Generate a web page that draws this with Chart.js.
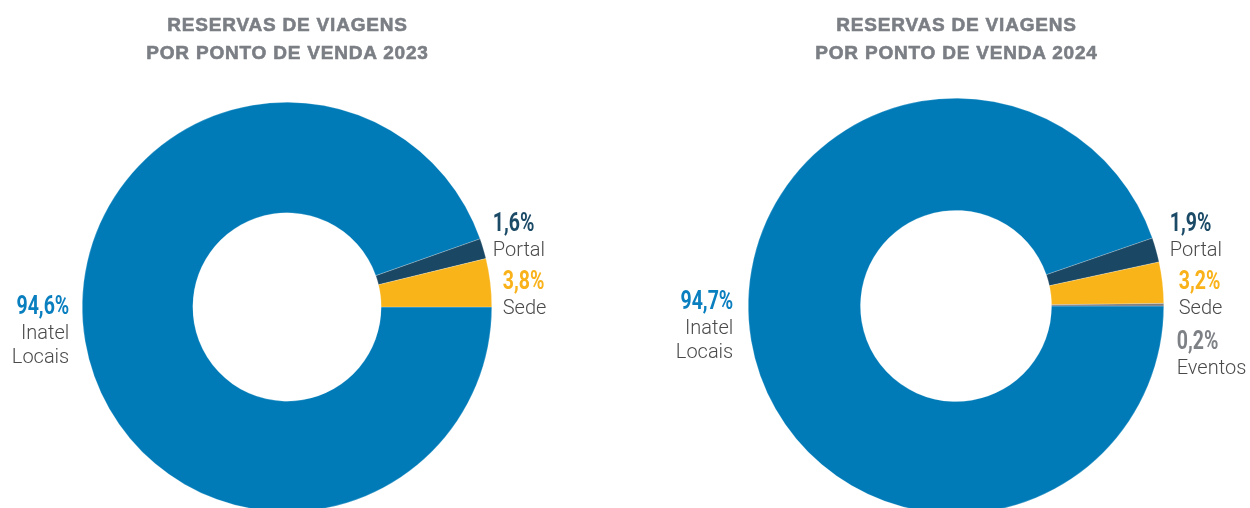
<!DOCTYPE html>
<html lang="pt">
<head>
<meta charset="utf-8">
<title>Reservas de viagens por ponto de venda</title>
<script src="https://cdn.jsdelivr.net/npm/chart.js@4.4.0/dist/chart.umd.min.js"></script>
<style>
  html, body { margin: 0; padding: 0; background: #fff; overflow: hidden; }
  body { width: 1250px; height: 508px; position: relative; }
  .panel { position: absolute; top: 0; width: 625px; }
  .panel canvas { position: absolute; top: 0; left: 0; }
  .title {
    position: absolute; top: 11px; width: 625px; text-align: center;
    font-family: "Liberation Sans", Arial, sans-serif; font-weight: bold;
    font-size: 19px; line-height: 28px; letter-spacing: 0.8px; color: #7b7f85;
    -webkit-text-stroke: 0.6px #7b7f85;
    margin: 0;
  }
</style>
</head>
<body>
<div class="panel" style="left:0">
  <canvas id="chart2023" width="625" height="512"></canvas>
</div>
<div class="panel" style="left:625px">
  <canvas id="chart2024" width="625" height="516"></canvas>
</div>
<h2 class="title" id="title2023" style="left:-25px"></h2>
<h2 class="title" id="title2024" style="left:644px"></h2>

<script>
// dados
const titles2023 = ['RESERVAS DE VIAGENS', 'POR PONTO DE VENDA 2023'];
const titles2024 = ['RESERVAS DE VIAGENS', 'POR PONTO DE VENDA 2024'];

const labels2023 = [['Inatel', 'Locais'], ['Portal'], ['Sede']];
const values2023 = [94.6, 1.6, 3.8];

const labels2024 = [['Inatel', 'Locais'], ['Portal'], ['Sede'], ['Eventos']];
const values2024 = [94.7, 1.9, 3.2, 0.2];

// cores
const sliceColors = ['#007bb8', '#1a4864', '#f9b419', '#7a7d82'];
const pctColors = ['#0a7fbf', '#1b4a67', '#f9b21a', '#7d8085'];

// posição das etiquetas em relação ao anel (lado, folga horizontal, deslocamento vertical)
const place2023 = [
  { side: 'left', gap: 13, dy: 1 },
  { side: 'right', gap: 1, dy: -82 },
  { side: 'right', gap: 11, dy: -24 }
];
const place2024 = [
  { side: 'left', gap: 15, dy: -3 },
  { side: 'right', gap: 6, dy: -81 },
  { side: 'right', gap: 15, dy: -23 },
  { side: 'right', gap: 13, dy: 37 }
];

function fmt(v) {
  return v.toFixed(1).replace('.', ',') + '%';
}

const outsideLabels = {
  id: 'outsideLabels',
  afterDraw(chart, args, opts) {
    const ctx = chart.ctx;
    const arcs = chart.getDatasetMeta(0).data;
    const values = chart.data.datasets[0].data;
    ctx.save();
    ctx.textBaseline = 'middle';
    arcs.forEach((arc, i) => {
      const p = opts.place[i];
      const { x, y, outerRadius } = arc.getProps(['x', 'y', 'outerRadius'], true);
      const tx = p.side === 'left' ? x - outerRadius - p.gap : x + outerRadius + p.gap;
      ctx.textAlign = p.side === 'left' ? 'right' : 'left';
      let ty = y + p.dy;
      // percentagem em letra condensada (escala horizontal)
      ctx.save();
      ctx.translate(tx, ty);
      ctx.scale(0.78, 1);
      ctx.font = 'bold 25px Roboto, sans-serif';
      ctx.fillStyle = pctColors[i];
      ctx.fillText(fmt(values[i]), 0, 0);
      ctx.restore();
      ctx.font = '300 20px Roboto, sans-serif';
      ctx.fillStyle = '#4a4a4a';
      chart.data.labels[i].forEach((line, k) => {
        ty += k === 0 ? 26 : 24;
        ctx.fillText(line, tx, ty);
      });
    });
    ctx.restore();
  }
};

function makeChart(id, labels, values, padding, place) {
  return new Chart(document.getElementById(id), {
    type: 'doughnut',
    data: {
      labels: labels,
      datasets: [{
        data: values,
        backgroundColor: sliceColors.slice(0, values.length),
        borderColor: 'rgba(255,255,255,0.45)',
        borderWidth: 0.5
      }]
    },
    options: {
      responsive: false,
      animation: false,
      devicePixelRatio: 1,
      rotation: 90,
      cutout: '46%',
      layout: { padding: padding },
      plugins: {
        legend: { display: false },
        tooltip: { enabled: false },
        outsideLabels: { place: place }
      }
    },
    plugins: [outsideLabels]
  });
}

document.getElementById('title2023').innerHTML = titles2023.join('<br>');
document.getElementById('title2024').innerHTML = titles2024.join('<br>');

makeChart('chart2023', labels2023, values2023, { top: 102, left: 82, right: 133, bottom: 0 }, place2023);
makeChart('chart2024', labels2024, values2024, { top: 98, left: 123, right: 86, bottom: 2 }, place2024);
</script>
</body>
</html>
